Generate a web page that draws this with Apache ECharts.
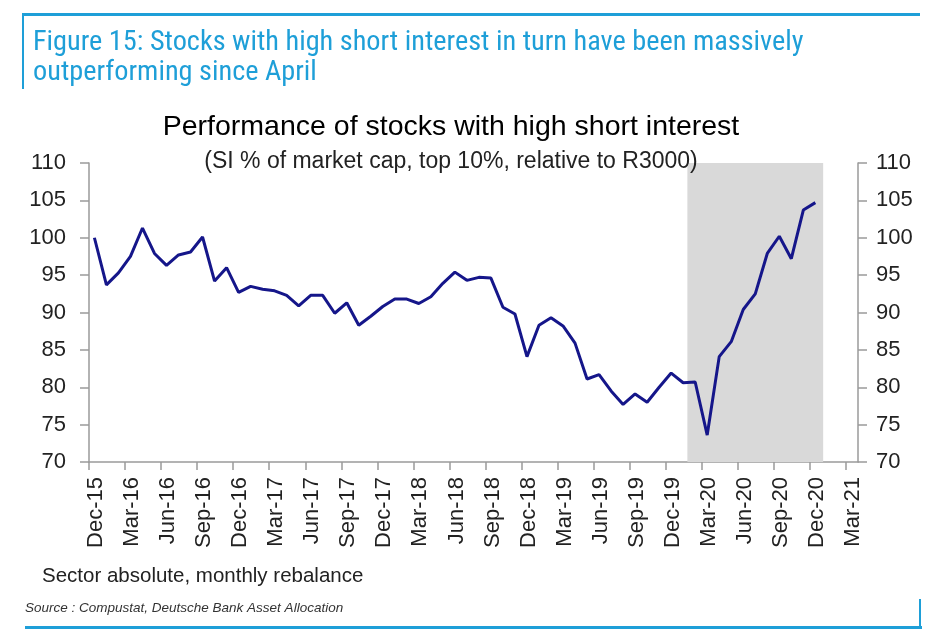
<!DOCTYPE html>
<html>
<head>
<meta charset="utf-8">
<script src="https://cdn.jsdelivr.net/npm/echarts@6/dist/echarts.min.js"></script>
<style>
html,body{margin:0;padding:0;background:#fff;}
#chart{width:944px;height:639px;}
</style>
</head>
<body>
<div id="chart"></div>
<script>
// Monthly values, Dec-15 (index 0) to Dec-20 (index 60)
const values = [
  100.0, 93.7, 95.3, 97.5, 101.3, 97.9, 96.3, 97.7, 98.1, 100.1,
  94.2, 96.0, 92.7, 93.5, 93.1, 92.9, 92.3, 90.9, 92.3, 92.3,
  89.9, 91.3, 88.3, 89.5, 90.8, 91.8, 91.8, 91.2, 92.1, 93.9,
  95.4, 94.3, 94.7, 94.6, 90.7, 89.8, 84.1, 88.3, 89.3, 88.2,
  85.9, 81.1, 81.7, 79.5, 77.7, 79.1, 78.0, 80.0, 81.9, 80.6,
  80.7, 73.6, 84.1, 86.1, 90.4, 92.5, 97.9, 100.2, 97.2, 103.7,
  104.7
];
// Observation timing within each month (fraction of a month after month start)
const monthOffset = 0.45;
// Quarterly tick labels (every 3 months from Dec-15)
const tickLabels = [
  'Dec-15','Mar-16','Jun-16','Sep-16','Dec-16','Mar-17','Jun-17','Sep-17',
  'Dec-17','Mar-18','Jun-18','Sep-18','Dec-18','Mar-19','Jun-19','Sep-19',
  'Dec-19','Mar-20','Jun-20','Sep-20','Dec-20','Mar-21'
];
// Shaded period in month index (late Jan-20 to Jan-21)
const shadeRange = [49.8, 61.1];
const yTicks = [70, 75, 80, 85, 90, 95, 100, 105, 110];

const blue = '#1e9fd8';
const sans = 'Liberation Sans, Arial, Helvetica, sans-serif';
const narrow = 'Liberation Sans Narrow, Arial Narrow, Roboto Condensed, sans-serif';
const chart = echarts.init(document.getElementById('chart'));

function yAxisDef(pos, margin) {
  return {
    type: 'value',
    position: pos,
    min: yTicks[0],
    max: yTicks[yTicks.length - 1],
    interval: 5,
    axisLine: { show: true, lineStyle: { color: '#9a9a9a', width: 1.5 } },
    axisTick: { show: true, length: 9, lineStyle: { color: '#9a9a9a', width: 1.5 } },
    splitLine: { show: false },
    axisLabel: { color: '#222', fontSize: 22, fontFamily: sans, margin: margin }
  };
}

chart.setOption({
  animation: false,
  backgroundColor: '#fff',
  title: [
    {
      text: 'Performance of stocks with high short interest',
      left: 446, top: 108, textAlign: 'center',
      textStyle: { fontSize: 28.5, fontWeight: 'normal', color: '#000', fontFamily: sans }
    },
    {
      text: '(SI % of market cap, top 10%, relative to R3000)',
      left: 446, top: 145, textAlign: 'center',
      textStyle: { fontSize: 23, fontWeight: 'normal', color: '#222', fontFamily: sans }
    }
  ],
  grid: { left: 89, right: 86, top: 163, bottom: 177, containLabel: false },
  xAxis: {
    type: 'value',
    min: 0, max: 64, interval: 3,
    axisLine: { show: true, onZero: false, lineStyle: { color: '#9a9a9a', width: 1.5 } },
    axisTick: { show: true, length: 8, lineStyle: { color: '#9a9a9a', width: 1.5 } },
    splitLine: { show: false },
    axisLabel: {
      rotate: 90, color: '#222', fontSize: 22, margin: 15,
      fontFamily: sans,
      verticalAlign: 'top',
      lineHeight: 14,
      showMaxLabel: false,
      formatter: function (v) { return v % 3 === 0 && tickLabels[v / 3] ? tickLabels[v / 3] : ''; }
    }
  },
  yAxis: [ yAxisDef('left', 23), yAxisDef('right', 18) ],
  series: [
    {
      type: 'line',
      data: values.map((v, i) => [i + monthOffset, v]),
      showSymbol: false,
      lineStyle: { color: '#15168a', width: 3 },
      itemStyle: { color: '#15168a' },
      z: 5,
      markArea: {
        silent: true,
        itemStyle: { color: '#d9d9d9', opacity: 1 },
        data: [[{ xAxis: shadeRange[0] }, { xAxis: shadeRange[1] }]]
      }
    }
  ],
  graphic: [
    { type: 'rect', shape: { x: 22, y: 13, width: 898, height: 3 }, style: { fill: blue } },
    { type: 'rect', shape: { x: 22, y: 13, width: 2, height: 76 }, style: { fill: blue } },
    {
      type: 'text', left: 33, top: 28,
      style: {
        text: 'Figure 15: Stocks with high short interest in turn have been massively\noutperforming since April',
        fill: blue, fontSize: 28.3, lineHeight: 30,
        fontFamily: narrow
      }
    },
    {
      type: 'text', left: 42, top: 566,
      style: { text: 'Sector absolute, monthly rebalance', fill: '#222', fontSize: 20.5, fontFamily: sans }
    },
    {
      type: 'text', left: 25, top: 601,
      style: { text: 'Source : Compustat, Deutsche Bank Asset Allocation', fill: '#333', fontSize: 13.5,
        fontStyle: 'italic', fontFamily: sans }
    },
    { type: 'rect', shape: { x: 25, y: 626, width: 897, height: 3 }, style: { fill: blue } },
    { type: 'rect', shape: { x: 919, y: 599, width: 2, height: 30 }, style: { fill: blue } }
  ]
});
</script>
</body>
</html>
